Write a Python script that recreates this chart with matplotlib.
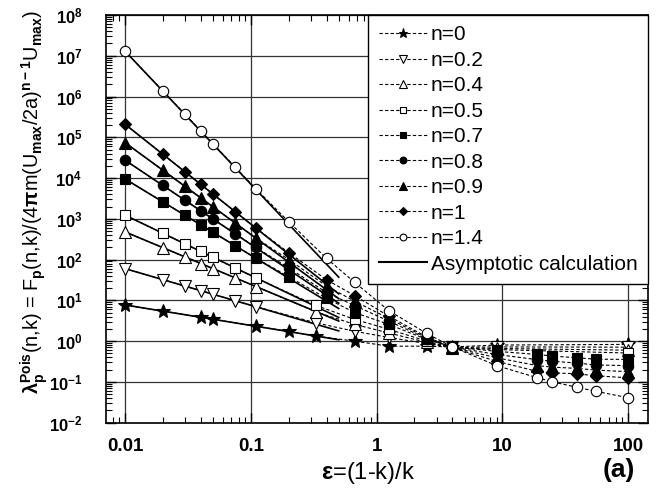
import numpy as np
import matplotlib
matplotlib.use("Agg")
import matplotlib.pyplot as plt
from matplotlib.ticker import LogLocator, FuncFormatter, NullFormatter

plt.rcParams['font.family'] = ['Liberation Sans', 'DejaVu Sans']
plt.rcParams['font.weight'] = 'bold'
plt.rcParams['mathtext.fontset'] = 'custom'
plt.rcParams['mathtext.rm'] = 'Liberation Sans:bold'
plt.rcParams['mathtext.bf'] = 'Liberation Sans:bold'
plt.rcParams['mathtext.it'] = 'Liberation Sans:bold'
plt.rcParams['mathtext.default'] = 'rm'

# epsilon values, per series
x_small = [0.01, 0.02, 0.03, 0.04, 0.05, 0.075, 0.11]
x_n0 = [0.01, 0.02, 0.04, 0.05, 0.11, 0.2, 0.33, 0.67, 1.25, 2.5, 4, 9, 99]
x_open = x_small + [0.33, 0.67, 1.25, 2.5, 4, 9, 99]
x_fill = x_small + [0.2, 0.4, 0.67, 1.25, 2.5, 4, 9, 19, 25, 39, 55, 99]

y_n0 = [7.7, 5.43, 3.84, 3.43, 2.32, 1.74, 1.32, 1.0, 0.75, 0.75, 0.72, 0.8, 0.83]
y_n02 = [60, 32.3, 22.4, 17.3, 14.2, 9.8, 7.0, 2.8, 1.74, 1.23, 0.87, 0.7, 0.72, 0.71]
y_n04 = [479, 196, 116, 80, 60, 35.6, 21.7, 5.2, 2.57, 1.58, 0.93, 0.69, 0.66, 0.6]
y_n05 = [1230, 442, 242, 158, 114, 62, 35.4, 7.5, 3.4, 1.95, 1.0, 0.69, 0.62, 0.51]
y_n07 = [9500, 2610, 1220, 714, 471, 221, 108, 38, 11.2, 5.0, 2.57, 1.1, 0.72,
         0.56, 0.47, 0.43, 0.39, 0.36, 0.355]
y_n08 = [27500, 6600, 2860, 1580, 1000, 435, 198, 63, 15.5, 7.4, 3.1, 1.15, 0.71,
         0.47, 0.35, 0.32, 0.29, 0.26, 0.25]
y_n09 = [74000, 15600, 6270, 3280, 1980, 796, 337, 100, 22.4, 9.5, 3.6, 1.2, 0.7,
         0.39, 0.25, 0.23, 0.214, 0.195, 0.178]
y_n1 = [209000, 38300, 14200, 7000, 4050, 1500, 589, 148, 32, 13, 4.1, 1.26, 0.69,
        0.32, 0.18, 0.166, 0.158, 0.141, 0.126]
y_n14 = [1.3e7, 1.37e6, 3.67e5, 1.44e5, 6.97e4, 1.87e4, 5400, 850, 107, 27.5, 5.6, 1.54, 0.72,
         0.25, 0.126, 0.1, 0.074, 0.059, 0.041]

# asymptotic calculation: straight lines between eps=0.01 and eps=0.5
x_asym = [0.01, 0.5]
asym = {
    '0': [7.7, 1.08], '0.2': [60, 1.78], '0.4': [479, 3.1], '0.5': [1230, 3.8],
    '0.7': [9500, 6.3], '0.8': [27500, 8.5], '0.9': [74000, 11], '1': [209000, 14.4],
    '1.4': [1.3e7, 37],
}

series = [
    ('n=0', x_n0, y_n0, '*', 'black', 10),
    ('n=0.2', x_open, y_n02, 'v', 'white', 8),
    ('n=0.4', x_open, y_n04, '^', 'white', 8),
    ('n=0.5', x_open, y_n05, 's', 'white', 6.5),
    ('n=0.7', x_fill, y_n07, 's', 'black', 6.5),
    ('n=0.8', x_fill, y_n08, 'o', 'black', 7.5),
    ('n=0.9', x_fill, y_n09, '^', 'black', 8),
    ('n=1', x_fill, y_n1, 'D', 'black', 6.5),
    ('n=1.4', x_fill, y_n14, 'o', 'white', 7.5),
]

fig = plt.figure(figsize=(6.6, 4.92), dpi=100)
ax = fig.add_axes([0.1606, 0.141, 0.8214, 0.8285])

for lab, xs, ys, m, fc, ms in series:
    ax.plot(xs, ys, linestyle=(0, (3, 2)), color='black', lw=0.8, marker=m,
            markerfacecolor=fc, markeredgecolor='black', markeredgewidth=0.8,
            markersize=ms, label=lab, zorder=3)
for k, v in asym.items():
    ax.plot(x_asym, v, color='black', lw=1.2, zorder=2)
ax.plot([], [], color='black', lw=1.5, label='Asymptotic calculation')

ax.set_xscale('log')
ax.set_yscale('log')
ax.set_xlim(0.00706, 144)
ax.set_ylim(1e-2, 1e8)

ax.yaxis.set_major_locator(LogLocator(base=10, numticks=20))
ax.yaxis.set_minor_locator(LogLocator(base=10, subs=np.arange(2, 10), numticks=20))
ax.yaxis.set_minor_formatter(NullFormatter())
ax.yaxis.set_major_formatter(FuncFormatter(lambda v, p: r'$\mathbf{10^{%d}}$' % round(np.log10(v))))
ax.xaxis.set_major_formatter(FuncFormatter(lambda v, p: '%g' % v))
ax.xaxis.set_minor_formatter(NullFormatter())

ax.tick_params(which='both', direction='in', top=True, right=True)
ax.tick_params(axis='y', which='major', labelsize=12, pad=17)
ax.tick_params(axis='x', which='major', labelsize=13.5, pad=11)
ax.tick_params(which='major', length=7, width=1)
ax.tick_params(which='minor', length=4, width=0.8)
ax.grid(True, which='major', color='0.2', lw=0.9)
for s in ax.spines.values():
    s.set_linewidth(1.2)

ax.set_xlabel(r'$\epsilon$=(1-k)/k', fontsize=17)
ax.xaxis.set_label_coords(0.483, -0.092)
ax.set_ylabel(r'$\lambda_p^{Pois}$(n,k) = F$_p$(n,k)/(4$\pi$m(U$_{max}$/2a)$^{n-1}$U$_{max}$)',
              fontsize=14.3)
ax.yaxis.set_label_coords(-0.104, 0.542)
fig.text(0.962, 0.02, '(a)', fontsize=19, fontweight='bold', ha='right', va='bottom')

leg = ax.legend(loc='upper right', borderaxespad=0, fancybox=False, edgecolor='black',
                framealpha=1, prop={'weight': 'normal', 'size': 15}, handlelength=2.3,
                labelspacing=0.31, borderpad=0.5, handletextpad=0.2, markerscale=0.65)
leg.get_frame().set_linewidth(1)

fig.savefig('out.png', dpi=100)
